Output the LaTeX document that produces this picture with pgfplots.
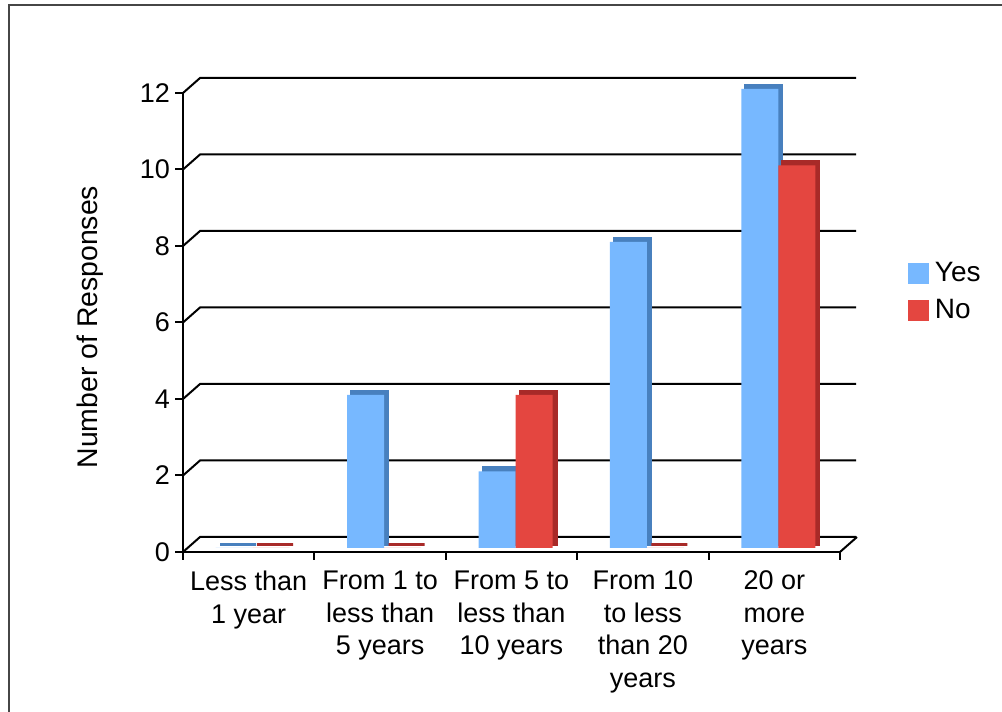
\documentclass[border=0pt]{standalone}
\usepackage{fontspec}
\setmainfont{Liberation Sans}
\usepackage{pgfplots}
\pgfplotsset{compat=1.18}
\definecolor{yesblue}{RGB}{119,184,255}
\definecolor{yesdark}{RGB}{72,128,190}
\definecolor{nored}{RGB}{228,70,64}
\definecolor{nodark}{RGB}{168,42,40}
\definecolor{framegray}{RGB}{70,70,70}

\begin{document}
\begin{tikzpicture}
\useasboundingbox (0pt,0pt) rectangle (501pt,356pt);
\draw[line width=1.2pt, framegray] (4.5pt,0pt) -- (4.5pt,353.5pt) -- (501pt,353.5pt);
\begin{axis}[
  at={(91.5pt,80pt)}, anchor=south west,
  width=328.5pt, height=229.5pt, scale only axis,
  xmin=-0.5, xmax=4.5, ymin=0, ymax=12,
  axis x line*=bottom, axis y line*=left,
  axis line style={line width=1pt, black},
  tick align=outside,
  major tick length=4pt,
  every tick/.style={black, line width=1pt},
  ytick={0,2,...,12},
  xtick={-0.5,0.5,1.5,2.5,3.5,4.5},
  x tick label as interval,
  xticklabels={{Less than\\1 year},{From 1 to\\less than\\5 years},{From 5 to\\less than\\10 years},{From 10\\to less\\than 20\\years},{20 or\\more\\years}},
  xticklabel style={align=center, font=\fontsize{13.5}{16.25}\selectfont, yshift=-2pt},
  yticklabel style={font=\fontsize{13.5}{16}\selectfont, xshift=1pt},
  /pgf/number format/assume math mode=true,
  ylabel={Number of Responses},
  every axis y label/.style={at={(axis description cs:-0.1416,0.49)}, rotate=90, anchor=center,
    font=\fontsize{14.2}{16}\selectfont},
  legend style={at={(axis description cs:1.103,0.64)}, anchor=north west, draw=none, fill=none,
    font=\fontsize{14}{16}\selectfont, row sep=3pt, inner sep=0pt,
    nodes={inner xsep=3pt}},
  legend cell align=left,
  clip=false,
]
% back wall grid lines with depth connectors
\pgfplotsinvokeforeach{0,2,4,6,8,10,12}{
  \draw[black, line width=1pt] (axis cs:-0.5,#1) -- ++(8.5pt,7.5pt) -- ++(328pt,0pt);
}
\draw[black, line width=1pt] (axis cs:4.5,0) -- ++(8.5pt,7.5pt);

% depth (side/top) faces
\addplot[ybar, bar width=18pt, bar shift=-9.25pt, fill=yesdark, draw=yesdark, line width=1.5pt, xshift=4pt, yshift=3.8pt, forget plot]
  coordinates {(0,0) (1,4) (2,2) (3,8) (4,12)};
\addplot[ybar, bar width=18pt, bar shift=9.25pt, fill=nodark, draw=nodark, line width=1.5pt, xshift=4pt, yshift=3.8pt, forget plot]
  coordinates {(0,0) (1,0) (2,4) (3,0) (4,10)};
% front faces
\addplot[ybar, bar width=18.5pt, bar shift=-9.25pt, fill=yesblue, draw=none, xshift=2pt, yshift=2pt, forget plot]
  coordinates {(0,0) (1,4) (2,2) (3,8) (4,12)};
\addplot[ybar, bar width=18.5pt, bar shift=9.25pt, fill=nored, draw=none, xshift=2pt, yshift=2pt, forget plot]
  coordinates {(0,0) (1,0) (2,4) (3,0) (4,10)};

\addlegendimage{legend image code/.code={\fill[yesblue] (0pt,-5pt) rectangle (10pt,5pt);}}
\addlegendentry{Yes}
\addlegendimage{legend image code/.code={\fill[nored] (0pt,-5pt) rectangle (10pt,5pt);}}
\addlegendentry{No}
\end{axis}
\end{tikzpicture}
\end{document}
